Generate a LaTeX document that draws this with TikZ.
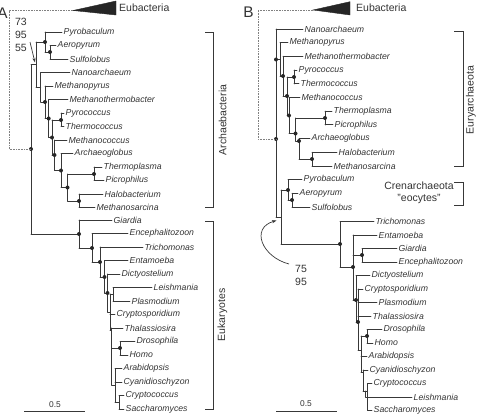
\documentclass[tikz,border=0pt]{standalone}
\usepackage{fontspec}
\setmainfont{Liberation Sans}
\usetikzlibrary{arrows.meta}
\definecolor{lc}{gray}{0.22}
\definecolor{tc}{gray}{0.2}
\tikzset{
 br/.style={line width=0.9pt, draw=lc, line cap=round},
 lbl/.style={anchor=west, inner sep=1.5pt, font=\fontsize{8.7}{10}\selectfont\itshape, text=tc},
 grp/.style={font=\fontsize{10.5}{12}\selectfont, text=tc, inner sep=0pt},
 sml/.style={font=\fontsize{8.4}{10}\selectfont, text=tc, inner sep=0pt},
 brk/.style={line width=0.9pt, draw=lc},
 dotl/.style={draw=gray, line width=0.7pt, dash pattern=on 0.7pt off 0.9pt},
 dotc/.style={fill=black!85},
 wedge/.style={fill=black!85, draw=black!85, line width=0.4pt},
 letter/.style={font=\fontsize{15.4}{16}\selectfont, text=tc, inner sep=0pt}
}
\newcommand{\lf}[4]{\coordinate (#1) at (#2,#3); \node[lbl] (#1t) at (#1) {#4};}
\newcommand{\co}[3]{\coordinate (#1) at (#2,#3);}
\newcommand{\vb}[3]{\draw[br] (#1 |- #2) -- (#1 |- #3);}
\newcommand{\hb}[2]{\draw[br] (#1 |- #2) -- (#2);}
\newcommand{\cl}[3]{\vb{#1}{#2}{#3}\hb{#1}{#2}\hb{#1}{#3}}
\newcommand{\dt}[1]{\fill[dotc] (#1) circle (2);}
\begin{document}
\begin{tikzpicture}[x=1pt,y=-1pt]
\useasboundingbox (0,0) rectangle (479,415);
% ================= Panel A =================
\node[letter] (aLet) at (2.5,13) {A};
\lf{aPyb}{62}{32}{Pyrobaculum}
\lf{aAer}{56}{45.5}{Aeropyrum}
\lf{aSul}{68}{59}{Sulfolobus}
\lf{aNan}{70}{72.5}{Nanoarchaeum}
\lf{aMpy}{53}{86}{Methanopyrus}
\lf{aMth}{68}{99.5}{Methanothermobacter}
\lf{aPyc}{64}{113}{Pyrococcus}
\lf{aThc}{64}{126.5}{Thermococcus}
\lf{aMcc}{67}{140}{Methanococcus}
\lf{aArg}{73}{153.5}{Archaeoglobus}
\lf{aTpl}{102}{167}{Thermoplasma}
\lf{aPic}{104}{180.5}{Picrophilus}
\lf{aHal}{103}{194}{Halobacterium}
\lf{aMsa}{95}{207.5}{Methanosarcina}
\lf{aGia}{112}{220}{Giardia}
\lf{aEnc}{128}{233.5}{Encephalitozoon}
\lf{aTri}{143}{247}{Trichomonas}
\lf{aEnt}{128}{260.5}{Entamoeba}
\lf{aDic}{120}{274}{Dictyostelium}
\lf{aLei}{152}{287.5}{Leishmania}
\lf{aPla}{130}{301}{Plasmodium}
\lf{aCrs}{115}{314.5}{Cryptosporidium}
\lf{aTha}{123}{328}{Thalassiosira}
\lf{aDro}{135}{341.5}{Drosophila}
\lf{aHom}{128}{355}{Homo}
\lf{aAra}{122}{368.5}{Arabidopsis}
\lf{aCya}{122}{382}{Cyanidioschyzon}
\lf{aCrc}{124}{395.5}{Cryptococcus}
\lf{aSac}{124}{409}{Saccharomyces}
\co{aAS}{50}{52}\co{aCren}{45}{42}\co{aTP}{94}{174}\co{aHM}{79}{201}
\co{aTPHM}{67.5}{187.5}\co{aArgN}{61}{170.5}\co{aMcN}{54.5}{155}\co{aPT}{61}{120}
\co{aPTMc}{52}{137.5}\co{aMthN}{48.7}{118.5}\co{aMpyN}{45}{102}\co{aNanN}{40.7}{87}
\co{aArch}{36}{64.5}\co{aRoot}{31}{149}
\co{aEukR}{79}{234}\co{aEncN}{92}{248}\co{aTriN}{100}{262}\co{aEntN}{104.5}{277}
\co{aDicN}{107.5}{293}\co{aLP}{113}{294}\co{aN1}{110}{312}\co{aN2}{111.5}{330}
\co{aDH}{120}{348}\co{aN3}{115}{385}\co{aCS}{119}{402}
\cl{aAS}{aAer}{aSul}
\cl{aCren}{aPyb}{aAS}
\cl{aTP}{aTpl}{aPic}
\cl{aHM}{aHal}{aMsa}
\cl{aTPHM}{aTP}{aHM}
\cl{aArgN}{aArg}{aTPHM}
\cl{aMcN}{aMcc}{aArgN}
\cl{aPT}{aPyc}{aThc}
\cl{aPTMc}{aPT}{aMcN}
\cl{aMthN}{aMth}{aPTMc}
\cl{aMpyN}{aMpy}{aMthN}
\cl{aNanN}{aNan}{aMpyN}
\cl{aArch}{aCren}{aNanN}
\cl{aRoot}{aArch}{aEukR}
\cl{aEukR}{aGia}{aEncN}
\cl{aEncN}{aEnc}{aTriN}
\cl{aTriN}{aTri}{aEntN}
\cl{aEntN}{aEnt}{aDicN}
\cl{aDicN}{aDic}{aN1}
\cl{aLP}{aLei}{aPla}
\cl{aN1}{aLP}{aN2}\hb{aN1}{aCrs}
\cl{aN2}{aTha}{aN3}\hb{aN2}{aDH}
\cl{aDH}{aDro}{aHom}
\cl{aN3}{aAra}{aCS}\hb{aN3}{aCya}
\cl{aCS}{aCrc}{aSac}
\foreach \n in {aCren,aAS,aMpyN,aMthN,aPT,aPTMc,aMcN,aArgN,aTPHM,aTP,aHM,aRoot,aEukR,aEncN,aTriN,aEntN,aDicN,aDH}{\dt{\n}}
% Eubacteria wedge A
\co{aW}{73}{10.5}\co{aW1}{116}{1}\co{aW2}{116}{15}
\fill[wedge] (aW) -- (aW1) -- (aW2) -- cycle;
\node[grp,anchor=west] (aEub) at (119,8) {Eubacteria};
\co{aD}{9}{10.5}
\draw[dotl] (aW) -- (aD) |- (aRoot);
% support values A
\node[grp] (a73) at (21,22) {73};
\node[grp] (a95) at (21,34.5) {95};
\node[grp] (a55) at (21,47.5) {55};
\co{aArS}{30}{42}\co{aArE}{35}{62.5}
\draw[line width=0.7pt, draw=lc, -{Stealth[length=4.5pt,width=3.2pt]}] (aArS) -- (aArE);
% brackets A
\co{aB1}{213}{32}\co{aB2}{213}{207.5}
\draw[brk] ([xshift=-8pt]aB1) -- (aB1) -- (aB2) -- ([xshift=-8pt]aB2);
\node[grp,rotate=90] (aArcL) at (222.5,120) {Archaebacteria};
\co{aB3}{213}{221.5}\co{aB4}{213}{409}
\draw[brk] ([xshift=-8pt]aB3) -- (aB3) -- (aB4) -- ([xshift=-8pt]aB4);
\node[grp,rotate=90] (aEukL) at (222.5,315) {Eukaryotes};
% scale A
\co{aS1}{24}{411.5}\co{aS2}{85}{411.5}
\draw[br,line cap=butt] (aS1) -- (aS2);
\node[sml] (aSc) at (55,405) {0.5};
% ================= Panel B =================
\node[letter] (bLet) at (248.5,12.5) {B};
\lf{bNan}{303}{29}{Nanoarchaeum}
\lf{bMpy}{288}{42.7}{Methanopyrus}
\lf{bMth}{303}{56.4}{Methanothermobacter}
\lf{bPyc}{297}{70.1}{Pyrococcus}
\lf{bThc}{299}{83.8}{Thermococcus}
\lf{bMcc}{300}{97.5}{Methanococcus}
\lf{bTpl}{332}{111.2}{Thermoplasma}
\lf{bPic}{333}{124.9}{Picrophilus}
\lf{bArg}{310}{138.6}{Archaeoglobus}
\lf{bHal}{337}{152.3}{Halobacterium}
\lf{bMsa}{332}{166}{Methanosarcina}
\lf{bPyb}{302}{179.7}{Pyrobaculum}
\lf{bAer}{298}{193.4}{Aeropyrum}
\lf{bSul}{310}{207.1}{Sulfolobus}
\lf{bTri}{374}{221.5}{Trichomonas}
\lf{bEnt}{377}{235}{Entamoeba}
\lf{bGia}{397}{248.5}{Giardia}
\lf{bEnc}{397}{262}{Encephalitozoon}
\lf{bDic}{370}{275.5}{Dictyostelium}
\lf{bCrs}{363}{289}{Cryptosporidium}
\lf{bPla}{377}{302.5}{Plasmodium}
\lf{bTha}{371}{316}{Thalassiosira}
\lf{bDro}{382}{329.5}{Drosophila}
\lf{bHom}{373}{343}{Homo}
\lf{bAra}{367}{356.5}{Arabidopsis}
\lf{bCya}{368}{370}{Cyanidioschyzon}
\lf{bCrc}{372}{383.5}{Cryptococcus}
\lf{bLei}{412}{397}{Leishmania}
\lf{bSac}{372}{410.5}{Saccharomyces}
\co{bPT}{294}{77}\co{bTP}{325}{118}\co{bHM}{312}{159}\co{bArgHM}{299}{141}
\co{bTPArg}{295.5}{133.5}\co{bMcN}{289}{115.5}\co{bPTMc}{287}{96}\co{bMthN}{283}{76}
\co{bMpyN}{280}{59.5}\co{bRoot}{276}{139}\co{bAS}{292}{200}\co{bCren}{288}{190}
\co{bCE}{281}{217}\co{bEuR}{340}{244}
\co{bEntN}{353}{267}\co{bGE}{362}{255}\co{bDicN}{356}{300}\co{bN2}{358}{322}
\co{bDH}{367}{336}\co{bN3}{361}{350}\co{bN4}{363}{372}\co{bN5}{365.5}{391}\co{bCS}{367.5}{391}
\cl{bPT}{bPyc}{bThc}
\cl{bTP}{bTpl}{bPic}
\cl{bHM}{bHal}{bMsa}
\cl{bArgHM}{bArg}{bHM}
\cl{bTPArg}{bTP}{bArgHM}
\cl{bMcN}{bMcc}{bTPArg}
\cl{bPTMc}{bPT}{bMcN}
\cl{bMthN}{bMth}{bPTMc}
\cl{bMpyN}{bMpy}{bMthN}
\cl{bAS}{bAer}{bSul}
\cl{bCren}{bPyb}{bAS}
\cl{bCE}{bCren}{bEuR}
\cl{bRoot}{bNan}{bCE}\hb{bRoot}{bMpyN}
\cl{bEuR}{bTri}{bEntN}
\cl{bEntN}{bEnt}{bDicN}\hb{bEntN}{bGE}
\cl{bGE}{bGia}{bEnc}
\cl{bDicN}{bDic}{bN2}
\cl{bN2}{bCrs}{bN3}\hb{bN2}{bPla}\hb{bN2}{bTha}
\cl{bDH}{bDro}{bHom}
\cl{bN3}{bDH}{bN4}\hb{bN3}{bAra}
\cl{bN4}{bCya}{bN5}
\cl{bN5}{bCS}{bLei}
\cl{bCS}{bCrc}{bSac}
\fill[dotc] (bRoot |- bMpyN) circle (2);
\foreach \n in {bMthN,bPT,bPTMc,bMcN,bTP,bTPArg,bArgHM,bHM,bRoot,bCren,bAS,bEuR,bEntN,bGE,bDicN,bN2,bDH}{\dt{\n}}
% Eubacteria wedge B
\co{bW}{313}{10}\co{bW1}{350}{1.7}\co{bW2}{350}{15}
\fill[wedge] (bW) -- (bW1) -- (bW2) -- cycle;
\node[grp,anchor=west] (bEub) at (356,7.5) {Eubacteria};
\co{bD}{258}{10}
\draw[dotl] (bW) -- (bD) |- (bRoot);
% brackets B
\co{bB1}{463}{31}\co{bB2}{463}{166}
\draw[brk] ([xshift=-9pt]bB1) -- (bB1) -- (bB2) -- ([xshift=-9pt]bB2);
\node[grp,rotate=90] (bEurL) at (471,100) {Euryarchaeota};
\co{bB3}{463}{182}\co{bB4}{463}{205}
\draw[brk] ([xshift=-9pt]bB3) -- (bB3) -- (bB4) -- ([xshift=-9pt]bB4);
\node[grp] (bCreL) at (419,186) {Crenarchaeota};
\node[grp] (bEocL) at (419,198.5) {"eocytes"};
% curved arrow B
\node[grp] (b75) at (301,269) {75};
\node[grp] (b95) at (301,282) {95};
\co{bArS}{289}{264}\co{bArE}{276.5}{220.5}
\draw[line width=0.7pt, draw=lc, -{Stealth[length=4.5pt,width=3.2pt]}] (bArS) .. controls (262,257) and (250,228) .. (bArE);
% scale B
\co{bS1}{276}{411}\co{bS2}{337}{411}
\draw[br,line cap=butt] (bS1) -- (bS2);
\node[sml] (bSc) at (306,404) {0.5};
\end{tikzpicture}
\end{document}
